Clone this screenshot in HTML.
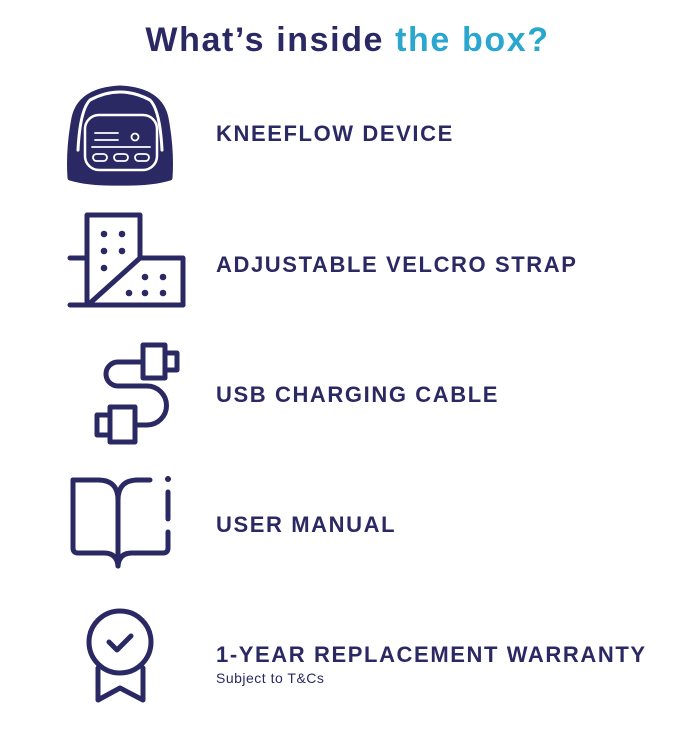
<!DOCTYPE html>
<html><head><style>
html,body{margin:0;padding:0;background:#fff;}
body{width:695px;height:754px;overflow:hidden;position:relative;font-family:"Liberation Sans",sans-serif;}
.t{position:absolute;left:0;width:695px;text-align:center;top:21px;font-weight:bold;font-size:34px;color:#2b2963;letter-spacing:1.6px}
.t span{color:#2aa6cf}
.l{position:absolute;left:216px;font-weight:bold;font-size:22px;color:#2b2963;letter-spacing:1.6px;white-space:nowrap}
.s{position:absolute;left:216px;top:670px;font-size:14px;color:#2b2963;letter-spacing:0.5px}
svg{position:absolute;left:0;top:0}
</style></head><body>
<div class="t">What’s inside <span>the box?</span></div>
<div class="l" style="top:121px">KNEEFLOW DEVICE</div>
<div class="l" style="top:252px">ADJUSTABLE VELCRO STRAP</div>
<div class="l" style="top:382px">USB CHARGING CABLE</div>
<div class="l" style="top:512px">USER MANUAL</div>
<div class="l" style="top:642px">1-YEAR REPLACEMENT WARRANTY</div>
<div class="s">Subject to T&amp;Cs</div>
<svg width="695" height="754" viewBox="0 0 695 754">
<g fill="none" stroke="#2b2963" stroke-width="5" stroke-linecap="round" stroke-linejoin="round">
<path d="M70 178 Q68 150 74 118 Q80 90 120 88 Q160 90 166 118 Q172 150 170 178 Q150 184 120 183 Q90 184 70 178 Z" fill="#2b2963"/>
<path d="M78 150 Q80 110 90 100 Q105 92 120 92 Q135 92 150 100 Q160 110 162 150" stroke="#fff" stroke-width="3"/>
<rect x="85" y="115" width="72" height="55" rx="14" fill="#2b2963" stroke="#fff" stroke-width="2.5"/>
<g stroke="#fff" stroke-width="1.8">
<line x1="95" y1="133" x2="118" y2="133"/><line x1="95" y1="140" x2="118" y2="140"/>
<circle cx="135" cy="137" r="3.5"/><line x1="92" y1="147" x2="150" y2="147"/>
<rect x="93" y="154" width="14" height="7" rx="3.5"/><rect x="114" y="154" width="14" height="7" rx="3.5"/><rect x="135" y="154" width="14" height="7" rx="3.5"/>
</g>
<path d="M87 305 V215 H140 V258 H183 V305"/>
<line x1="70" y1="258" x2="87" y2="258"/>
<line x1="70" y1="305" x2="183" y2="305"/>
<line x1="89" y1="304" x2="140" y2="258"/>
<rect x="143" y="345" width="22" height="33"/><rect x="165" y="353" width="12" height="17"/>
<rect x="110" y="407" width="25" height="35"/><rect x="97" y="415" width="13" height="20"/>
<path d="M143 362 H118 A12 12 0 0 0 118 386 H147 A19.5 19.5 0 0 1 147 425 H135"/>
<path d="M73 480 H98 Q118 480 118 500 V566"/>
<path d="M73 480 V548 Q73 553 78 553 H104 Q117 553 118 566 Q119 553 132 553 H163 Q168 553 168 548 V532"/>
<path d="M118 500 Q118 480 138 480 H150"/>
<line x1="168" y1="492" x2="168" y2="519"/>
<circle cx="120" cy="642" r="31"/>
<path d="M109 642 L117 650 L131 636"/>
<path d="M98 668 V700 L120 688 L143 700 V668"/>
</g>
<g fill="#2b2963">
<circle cx="104" cy="234" r="3.3"/><circle cx="122" cy="234" r="3.3"/><circle cx="104" cy="251" r="3.3"/><circle cx="122" cy="251" r="3.3"/><circle cx="104" cy="268" r="3.3"/>
<circle cx="145" cy="277" r="3.3"/><circle cx="163" cy="277" r="3.3"/><circle cx="129" cy="293" r="3.3"/><circle cx="145" cy="293" r="3.3"/><circle cx="163" cy="293" r="3.3"/>
<circle cx="168" cy="479" r="3"/>
</g>
</svg>
</body></html>
